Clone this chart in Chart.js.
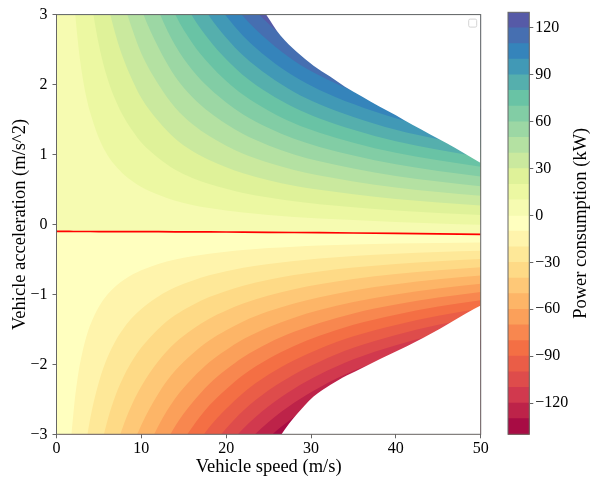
<!DOCTYPE html>
<html lang="en">
<head>
  <meta charset="UTF-8">
  <title>Power consumption map</title>
  <script src="https://cdn.jsdelivr.net/npm/chart.js"></script>
  <style>
    body { margin: 0; background: #fff; }
    #wrap { position: relative; width: 590px; height: 483px; }
    #mapChart { position: absolute; left: 0; top: 0; }
    #barChart { position: absolute; left: 490px; top: 0; }
  </style>
</head>
<body>
  <div id="wrap">
    <canvas id="mapChart" width="590" height="483"></canvas>
    <canvas id="barChart" width="100" height="483"></canvas>
  </div>

  <script>
    // speed columns (m/s) where the map was read
    const speeds    = [0, 0.25, 0.5, 1, 1.5, 2, 2.5, 3, 3.5, 4, 5, 6, 7, 8, 9, 10, 12, 14, 16, 18, 20, 22, 25, 28, 31, 35, 40, 45, 50];
    // acceleration where power is zero (red line), m/s^2
    const zeroAccel = [-0.100, -0.100, -0.100, -0.100, -0.100, -0.101, -0.101, -0.101, -0.101, -0.101, -0.102, -0.102, -0.102, -0.103, -0.103, -0.103, -0.104, -0.105, -0.106, -0.107, -0.108, -0.110, -0.112, -0.115, -0.118, -0.122, -0.128, -0.135, -0.142];
    // kW per (m/s * m/s^2), traction side and braking side
    const gainUp    = [1.45, 1.45, 1.45, 1.45, 1.45, 1.45, 1.46, 1.47, 1.48, 1.48, 1.50, 1.52, 1.53, 1.54, 1.55, 1.57, 1.58, 1.61, 1.62, 1.62, 1.62, 1.62, 1.61, 1.60, 1.58, 1.55, 1.52, 1.48, 1.45];
    const gainDown  = [1.95, 1.95, 1.95, 1.95, 1.95, 1.93, 1.92, 1.90, 1.89, 1.88, 1.86, 1.85, 1.84, 1.83, 1.82, 1.81, 1.80, 1.80, 1.79, 1.79, 1.78, 1.78, 1.77, 1.76, 1.75, 1.74, 1.72, 1.71, 1.70];

    // contour levels (kW)
    const levels = [-140, -130, -120, -110, -100, -90, -80, -70, -60, -50, -40, -30, -20, -10, 0, 10, 20, 30, 40, 50, 60, 70, 80, 90, 100, 110, 120, 130];

    // blank (infeasible) region limits
    const topLimitSpeed    = [24.6, 26.4, 28.3, 30.3, 32.2, 34, 36, 38, 40, 42, 44, 46, 48, 50];
    const topLimitAccel    = [3.02, 2.70, 2.47, 2.27, 2.12, 1.97, 1.83, 1.69, 1.56, 1.42, 1.29, 1.16, 1.02, 0.88];
    const bottomLimitSpeed = [26.4, 27.4, 28.35, 29.3, 30.3, 31.3, 32.3, 33.3, 34.2, 36.2, 38.2, 41.3, 45.2, 49.2, 50];
    const bottomLimitAccel = [-3.02, -2.85, -2.71, -2.58, -2.46, -2.37, -2.29, -2.22, -2.16, -2.04, -1.92, -1.74, -1.49, -1.21, -1.16];

    const xTicks = [0, 10, 20, 30, 40, 50];
    const yTicks = [-3, -2, -1, 0, 1, 2, 3];
    const barTicks = [-120, -90, -60, -30, 0, 30, 60, 90, 120];

    const serif = '"Liberation Serif", "Times New Roman", serif';
    const fmt = v => v < 0 ? '\u2212' + Math.abs(v) : String(v);

    // Spectral colormap
    const spectral = ['#9e0142', '#d53e4f', '#f46d43', '#fdae61', '#fee08b', '#ffffbf', '#e6f598', '#abdda4', '#66c2a5', '#3288bd', '#5e4fa2'];
    function hex(c) { return [1, 3, 5].map(k => parseInt(c.slice(k, k + 2), 16)); }
    function spectralAt(t) {
      const p = Math.min(Math.max(t, 0), 1) * (spectral.length - 1);
      const i = Math.min(Math.floor(p), spectral.length - 2);
      const f = p - i;
      const a = hex(spectral[i]), b = hex(spectral[i + 1]);
      return 'rgb(' + a.map((v, k) => Math.round(v + (b[k] - v) * f)).join(',') + ')';
    }
    const vmin = levels[0], vmax = levels[levels.length - 1];
    const bandColor = (lo, hi) => spectralAt(((lo + hi) / 2 - vmin) / (vmax - vmin));

    const zeroLine = speeds.map((v, i) => ({ x: v, y: zeroAccel[i] }));
    function levelLine(L) {
      if (L === 0) return zeroLine;
      const pts = [];
      for (let i = 1; i < speeds.length; i++) {
        const g = L > 0 ? gainUp[i] : gainDown[i];
        pts.push({ x: speeds[i], y: zeroAccel[i] + L / (g * speeds[i]) });
      }
      return pts;
    }

    // layers, bottom first
    const layers = [];
    const upper = levels.filter(L => L >= 0);
    upper.forEach((L, k) => {
      const hi = upper[k + 1];
      layers.push({ data: levelLine(L), fill: 'end', backgroundColor: hi === undefined ? '#ffffff' : bandColor(L, hi) });
    });
    const lower = levels.filter(L => L <= 0).reverse();
    lower.forEach((L, k) => {
      const lo = lower[k + 1];
      layers.push({ data: levelLine(L), fill: 'start', backgroundColor: lo === undefined ? '#ffffff' : bandColor(lo, L) });
    });
    layers.push({ data: topLimitSpeed.map((v, i) => ({ x: v, y: topLimitAccel[i] })), fill: 'end', backgroundColor: '#ffffff' });
    layers.push({ data: bottomLimitSpeed.map((v, i) => ({ x: v, y: bottomLimitAccel[i] })), fill: 'start', backgroundColor: '#ffffff' });
    layers.push({ data: zeroLine, fill: false, borderColor: '#ff0000', borderWidth: 1.7, cubicInterpolationMode: 'default', tension: 0 });

    const datasets = layers.map((d, i) => Object.assign({
      borderWidth: 0, borderColor: 'rgba(0,0,0,0)', pointRadius: 0,
      cubicInterpolationMode: 'monotone'
    }, d, { order: layers.length - i }));

    const framePlugin = {
      id: 'frame',
      afterDraw(chart) {
        const { ctx, chartArea: a } = chart;
        ctx.save();
        ctx.strokeStyle = '#666';
        ctx.lineWidth = 1;
        ctx.strokeRect(a.left, a.top, a.right - a.left, a.bottom - a.top);
        // empty legend frame
        ctx.strokeStyle = '#d4d4d4';
        ctx.fillStyle = '#fff';
        ctx.beginPath();
        ctx.roundRect(a.right - 12, a.top + 4.5, 8, 8, 1.5);
        ctx.fill();
        ctx.stroke();
        ctx.restore();
      }
    };

    new Chart(document.getElementById('mapChart'), {
      type: 'line',
      data: { datasets: datasets },
      options: {
        responsive: false,
        animation: false,
        events: [],
        elements: { line: { capBezierPoints: false } },
        layout: { padding: { left: 0, top: 12.3, right: 109.3, bottom: 0 } },
        plugins: { legend: { display: false }, tooltip: { enabled: false } },
        scales: {
          x: {
            type: 'linear', min: 0, max: 50,
            afterBuildTicks: s => { s.ticks = xTicks.map(v => ({ value: v })); },
            afterFit: s => { s.height = 48.7; },
            grid: { drawOnChartArea: false, drawTicks: true, tickLength: 4, color: '#666' },
            border: { display: false },
            ticks: { font: { family: serif, size: 16 }, color: '#000', padding: 1, maxRotation: 0, callback: fmt },
            title: { display: true, text: 'Vehicle speed (m/s)', font: { family: serif, size: 18.5 }, color: '#000', padding: { top: 0, bottom: 5 } }
          },
          y: {
            type: 'linear', min: -3, max: 3,
            afterBuildTicks: s => { s.ticks = yTicks.map(v => ({ value: v })); },
            afterFit: s => { s.width = 56.5; },
            grid: { drawOnChartArea: false, drawTicks: true, tickLength: 4, color: '#666' },
            border: { display: false },
            ticks: { font: { family: serif, size: 16 }, color: '#000', padding: 5, callback: fmt },
            title: { display: true, text: 'Vehicle acceleration (m/s^2)', font: { family: serif, size: 18.5 }, color: '#000', padding: { top: 9, bottom: 0 } }
          }
        }
      },
      plugins: [framePlugin]
    });

    // colour bar
    const bands = [];
    for (let k = 0; k < levels.length - 1; k++) {
      bands.push({ hi: levels[k + 1], color: bandColor(levels[k], levels[k + 1]), order: k });
    }

    const barPlugin = {
      id: 'barFrame',
      afterDraw(chart) {
        const { ctx, chartArea: a } = chart;
        ctx.save();
        ctx.strokeStyle = '#666';
        ctx.lineWidth = 1;
        ctx.strokeRect(a.left, a.top, a.right - a.left, a.bottom - a.top);
        ctx.translate(91, (a.top + a.bottom) / 2);
        ctx.rotate(-Math.PI / 2);
        ctx.font = '18.5px ' + serif;
        ctx.fillStyle = '#000';
        ctx.textAlign = 'center';
        ctx.textBaseline = 'middle';
        ctx.fillText('Power consumption (kW)', 0, 0);
        ctx.restore();
      }
    };

    new Chart(document.getElementById('barChart'), {
      type: 'bar',
      data: {
        labels: [''],
        datasets: bands.map(b => ({
          data: [[vmin, b.hi]], backgroundColor: b.color, borderWidth: 0,
          grouped: false, barPercentage: 1, categoryPercentage: 1, order: b.order
        }))
      },
      options: {
        responsive: false,
        animation: false,
        events: [],
        layout: { padding: { left: 18, top: 12.3, right: 0, bottom: 48.7 } },
        plugins: { legend: { display: false }, tooltip: { enabled: false } },
        scales: {
          x: { display: false },
          y: {
            position: 'right', min: vmin, max: vmax,
            afterBuildTicks: s => { s.ticks = barTicks.map(v => ({ value: v })); },
            afterFit: s => { s.width = 60.7; },
            grid: { drawOnChartArea: false, drawTicks: true, tickLength: 4, color: '#666' },
            border: { display: false },
            ticks: { font: { family: serif, size: 16 }, color: '#000', padding: 2, callback: fmt }
          }
        }
      },
      plugins: [barPlugin]
    });
  </script>
</body>
</html>
